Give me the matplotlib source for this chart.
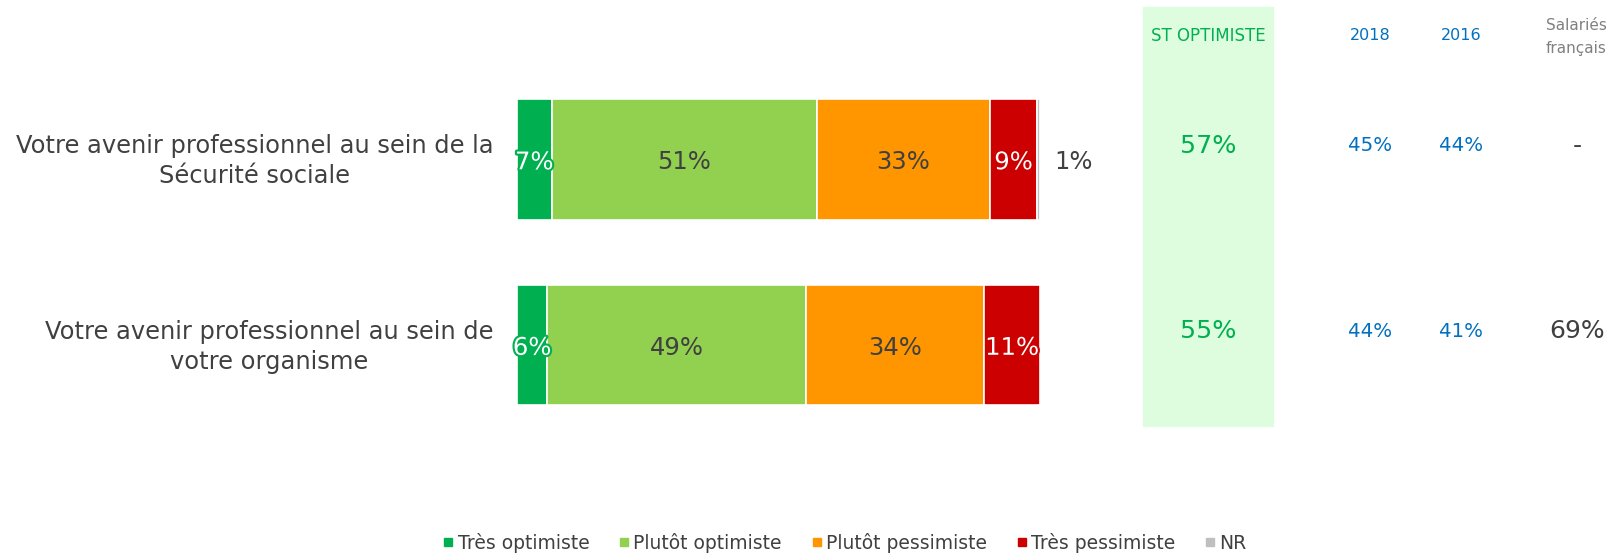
import matplotlib
matplotlib.use("Agg")
import matplotlib.pyplot as plt
import matplotlib.patheffects as pe
from matplotlib.patches import Rectangle
from matplotlib.lines import Line2D
import matplotlib.transforms as mtransforms

plt.rcParams['font.family'] = ['DejaVu Sans']

# Data
categories = ["Votre avenir professionnel au sein de la\nSécurité sociale",
              "Votre avenir professionnel au sein de\nvotre organisme"]
series = ["Très optimiste", "Plutôt optimiste", "Plutôt pessimiste", "Très pessimiste", "NR"]
colors = ["#00B050", "#92D050", "#FF9600", "#CC0000", "#BFBFBF"]
values = [[6.6, 50.7, 33.2, 8.9, 0.6],
          [5.8, 49.5, 34.0, 10.7, 0.0]]
labels = [["7%", "51%", "33%", "9%", "1%"],
          ["6%", "49%", "34%", "11%", ""]]
st_optimiste = ["57%", "55%"]
v2018 = ["45%", "44%"]
v2016 = ["44%", "41%"]
salaries = ["-", "69%"]

W, H = 1619, 556
fig = plt.figure(figsize=(W / 100, H / 100), dpi=100)

# bar axes: 0..100 -> 517..1040 px, rows at 159.5 and 345 px
ax = fig.add_axes([517 / W, 1 - 437.75 / H, 523 / W, 371 / H])
ax.set_xlim(0, 100)
ax.set_ylim(1.5, -0.5)
ax.axis('off')

# green panel behind ST OPTIMISTE column
fig.patches.append(Rectangle((1143 / W, 1 - 426 / H), 130 / W, 419 / H,
                             transform=fig.transFigure, color="#DEFDDE", zorder=0))

for i, row in enumerate(values):
    left = 0
    for j, v in enumerate(row):
        if v > 0:
            ax.barh(i, v, left=left, height=0.652, color=colors[j],
                    edgecolor="white", linewidth=1.2)
        lab = labels[i][j]
        if lab:
            cx = left + v / 2
            y = i + 0.015
            if j == 4:
                ax.text(left + v + 6.5, y, lab, ha='center', va='center',
                        fontsize=17.5, color="#404040")
            elif j in (0, 3):
                ax.text(cx, y, lab, ha='center', va='center', fontsize=17.5,
                        color="white",
                        path_effects=[pe.withStroke(linewidth=3, foreground=colors[j])])
            else:
                ax.text(cx, y, lab, ha='center', va='center', fontsize=17.5,
                        color="#404040")
        left += v
    ax.text(-4.5, i + 0.01, categories[i], ha='right', va='center', fontsize=17.4,
            color="#404040", multialignment='center', linespacing=1.32)

# right-hand columns: x in figure fraction, y in data units
tr = mtransforms.blended_transform_factory(fig.transFigure, ax.transData)
for i in range(len(categories)):
    y = i - 0.075
    fig.text(1208 / W, y, st_optimiste[i], transform=tr, ha='center', va='center',
             fontsize=18.3, color="#00B050")
    fig.text(1370 / W, y, v2018[i], transform=tr, ha='center', va='center',
             fontsize=14.2, color="#0070C0")
    fig.text(1461 / W, y, v2016[i], transform=tr, ha='center', va='center',
             fontsize=14.2, color="#0070C0")
    fig.text(1577 / W, y, salaries[i], transform=tr, ha='center', va='center',
             fontsize=18, color="#404040")

fig.text(1208 / W, 1 - 36 / H, "ST OPTIMISTE", ha='center', va='center',
         fontsize=12, color="#00B050", fontweight='medium')
fig.text(1370 / W, 1 - 36 / H, "2018", ha='center', va='center',
         fontsize=11.5, color="#0070C0", fontweight='medium')
fig.text(1461 / W, 1 - 36 / H, "2016", ha='center', va='center',
         fontsize=11.5, color="#0070C0", fontweight='medium')
fig.text(1576 / W, 1 - 37 / H, "Salariés\nfrançais", ha='center', va='center',
         fontsize=11, color="#808080", linespacing=1.6)

handles = [Line2D([], [], marker='s', linestyle='none', markersize=6,
                  markerfacecolor=c, markeredgecolor=c) for c in colors]
fig.legend(handles, series, loc='center', bbox_to_anchor=(845 / W, 1 - 543 / H),
           ncol=5, frameon=False, fontsize=13.5, handlelength=0.5,
           handletextpad=0.25, columnspacing=1.6, labelcolor="#404040")

fig.savefig("out.png", dpi=100, facecolor="white")
